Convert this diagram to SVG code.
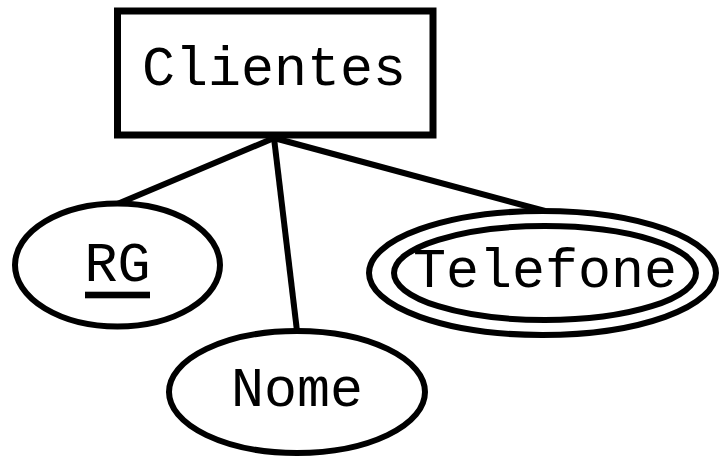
<svg xmlns="http://www.w3.org/2000/svg" width="720" height="459" viewBox="0 0 720 459">
<style>
.s{fill:#fff;stroke:#000;stroke-width:7}
.e{fill:#fff;stroke:#000;stroke-width:6}
.t{font-family:"Liberation Mono","Courier New",monospace;font-size:55px;fill:#000;text-anchor:middle}
.c{stroke:#000;stroke-width:6;fill:none}
</style>
<rect width="720" height="459" fill="#fff"/>
<g id="connectors">
<line class="c" x1="274" y1="138" x2="115" y2="205"/>
<line class="c" x1="274" y1="138" x2="297" y2="331"/>
<line class="c" x1="274" y1="138" x2="545" y2="211"/>
</g>
<g id="clientes">
<rect class="s" x="117.5" y="11" width="315.5" height="124" stroke-width="8"/>
<text class="t" x="274" y="85">Clientes</text>
</g>
<g id="rg">
<ellipse class="e" cx="117.5" cy="265" rx="102.5" ry="61.5"/>
<text class="t" x="117.5" y="281">RG</text>
<rect x="85" y="291.7" width="65" height="6.6" fill="#000"/>
</g>
<g id="nome">
<ellipse class="e" cx="297" cy="392" rx="128" ry="61"/>
<text class="t" x="297" y="406">Nome</text>
</g>
<g id="telefone">
<ellipse class="e" cx="542.5" cy="273" rx="173.5" ry="62"/>
<ellipse class="e" cx="545" cy="273" rx="151" ry="47"/>
<text class="t" x="545" y="287">Telefone</text>
</g>
</svg>
